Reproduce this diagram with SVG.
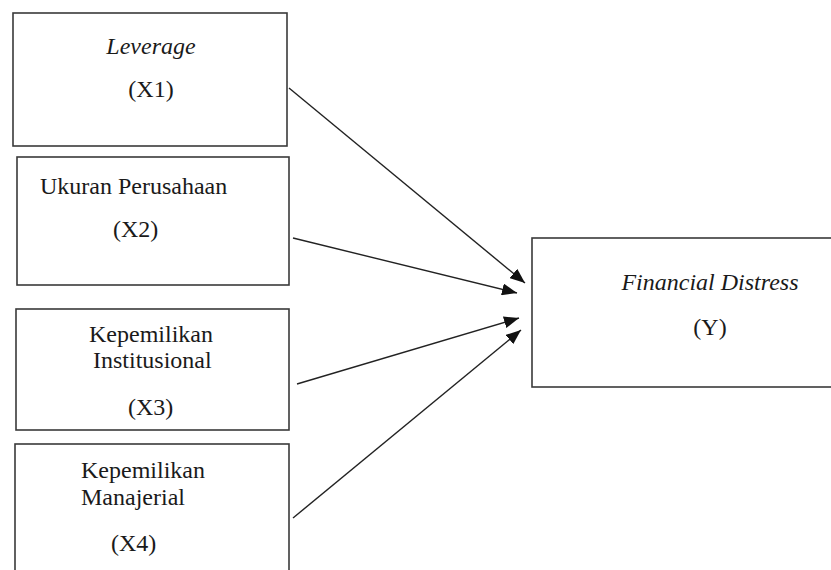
<svg xmlns="http://www.w3.org/2000/svg" width="831" height="570" viewBox="0 0 831 570">
<style>
.box{fill:#fff;stroke:#3a3a3a;stroke-width:1.6}
.t{font-family:"Liberation Serif","Times New Roman",serif;font-size:24px;fill:#1a1a1a}
.i{font-style:italic}
.c{stroke:#222;stroke-width:1.4;fill:none;marker-end:url(#ah)}
</style>
<defs>
<marker id="ah" markerUnits="userSpaceOnUse" markerWidth="16" markerHeight="12" refX="15" refY="6" orient="auto">
<path d="M0,0 L15,6 L0,12 Z" fill="#111"/>
</marker>
</defs>
<rect width="831" height="570" fill="#fff"/>
<g id="x1">
<rect class="box" x="13" y="13" width="274" height="133"/>
<text class="t i" x="151" y="54" text-anchor="middle">Leverage</text>
<text class="t" x="151" y="97" text-anchor="middle">(X1)</text>
</g>
<g id="x2">
<rect class="box" x="17" y="157" width="272" height="128"/>
<text class="t" x="40" y="194">Ukuran Perusahaan</text>
<text class="t" x="113" y="237">(X2)</text>
</g>
<g id="x3">
<rect class="box" x="16" y="309" width="273" height="121"/>
<text class="t" x="89" y="342">Kepemilikan</text>
<text class="t" x="93" y="368">Institusional</text>
<text class="t" x="128" y="415">(X3)</text>
</g>
<g id="x4">
<rect class="box" x="15" y="444" width="274" height="130"/>
<text class="t" x="81" y="478">Kepemilikan</text>
<text class="t" x="81" y="505">Manajerial</text>
<text class="t" x="111" y="551">(X4)</text>
</g>
<g id="y">
<rect class="box" x="532" y="238" width="303" height="149"/>
<text class="t i" x="710" y="290" text-anchor="middle">Financial Distress</text>
<text class="t" x="710" y="335" text-anchor="middle">(Y)</text>
</g>
<g id="connectors">
<line class="c" x1="289" y1="88" x2="525" y2="283"/>
<line class="c" x1="293" y1="238" x2="517" y2="293"/>
<line class="c" x1="297" y1="384" x2="519" y2="318"/>
<line class="c" x1="293" y1="518" x2="521" y2="330"/>
</g>
</svg>
